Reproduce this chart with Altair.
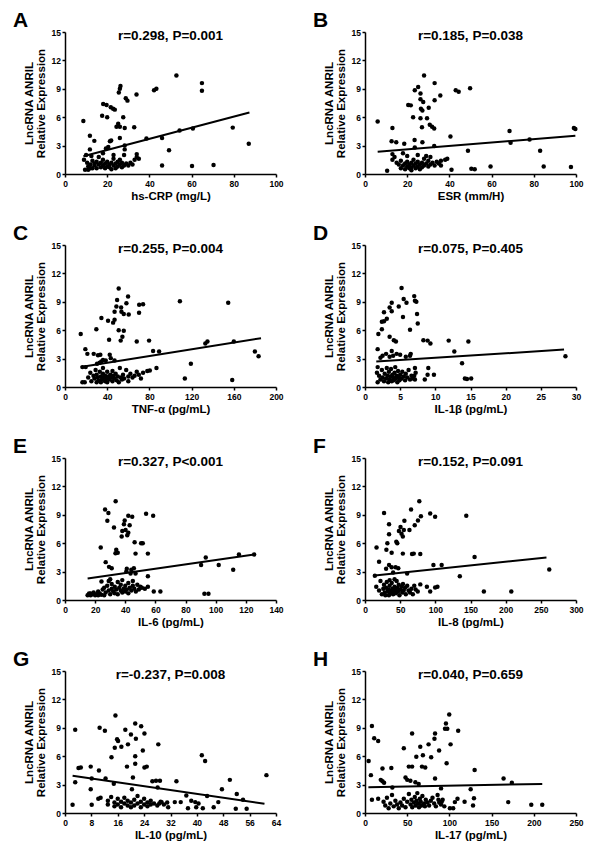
import altair as alt
import pandas as pd

FONT = "Liberation Sans"
Y_TITLE = ["LncRNA ANRIL", "Relative Expression"]
Y_TICKS = [0, 3, 6, 9, 12, 15]

letters = ["A", "B", "C", "D", "E", "F", "G", "H"]
stats = ["r=0.298, P=0.001", "r=0.185, P=0.038", "r=0.255, P=0.004", "r=0.075, P=0.405",
         "r=0.327, P<0.001", "r=0.152, P=0.091", "r=-0.237, P=0.008", "r=0.040, P=0.659"]
x_titles = ["hs-CRP (mg/L)", "ESR (mm/H)", "TNF-α (pg/mL)", "IL-1β (pg/mL)",
            "IL-6 (pg/mL)", "IL-8 (pg/mL)", "IL-10 (pg/mL)", "IL-17 (pg/mL)"]
x_ticks = [[0, 20, 40, 60, 80, 100], [0, 20, 40, 60, 80, 100], [0, 40, 80, 120, 160, 200],
           [0, 5, 10, 15, 20, 25, 30], [0, 20, 40, 60, 80, 100, 120, 140],
           [0, 50, 100, 150, 200, 250, 300], [0, 8, 16, 24, 32, 40, 48, 56, 64],
           [0, 50, 100, 150, 200, 250]]
fit_x = [[8.7, 87.4], [6.0, 99.7], [15.0, 185.8], [1.6, 28.3], [15.0, 125.5], [14.0, 258.0], [2.3, 60.5], [4.0, 210.0]]
fit_y = [[1.88, 6.5], [2.35, 4.05], [2.12, 5.16], [2.7, 3.95], [2.27, 4.8], [2.6, 4.5], [3.94, 0.98], [2.72, 3.07]]

A_pts = [(52.8, 10.4), (64.9, 9.6), (64.9, 8.8), (43.3, 9.0), (42.2, 8.85), (26.3, 9.3), (26.0, 9.0), (25.5, 8.6),
         (33.9, 8.4), (28.8, 8.0), (29.6, 7.75), (18.1, 7.4), (19.7, 7.3), (21.7, 7.05), (22.8, 6.9), (23.6, 6.8),
         (17.6, 6.15), (20.0, 6.0), (27.6, 6.0), (8.7, 5.6), (25.2, 5.3), (24.4, 5.0), (26.0, 5.0), (28.3, 4.85),
         (32.8, 4.95), (11.8, 4.05), (13.9, 3.5), (21.3, 3.45), (21.9, 3.55), (26.0, 3.8), (38.6, 3.75), (46.0, 3.8),
         (54.3, 4.6), (60.6, 4.8), (79.5, 4.9), (87.1, 3.2), (49.3, 2.5), (46.0, 0.9), (60.2, 0.85), (70.4, 0.95),
         (11.8, 2.6), (19.4, 2.7), (20.5, 2.85), (28.3, 3.0), (28.3, 2.6), (9.0, 1.5), (10.0, 2.0), (9.5, 0.45),
         (11.0, 0.45), (12.0, 0.6), (12.0, 1.0), (12.5, 1.9), (13, 0.6), (13, 1.4), (14, 0.9), (14, 1.1), (15, 1.3),
         (15, 0.6), (16, 1.0), (16, 1.8), (17, 0.7), (17, 1.2), (18, 0.9), (18, 1.5), (19, 0.6), (19, 1.1), (20, 0.8),
         (20, 1.3), (21, 0.7), (21, 1.0), (22, 1.2), (22, 0.5), (23, 0.9), (23, 1.6), (24, 0.6), (24, 1.1), (25, 1.3),
         (25, 0.8), (26, 1.0), (26, 1.5), (27, 0.7), (27, 1.2), (28, 0.9), (28, 2.0), (29, 1.1), (30, 0.9), (31, 1.2),
         (32, 1.0), (33, 1.5), (34, 1.8), (35, 1.6), (34, 2.1), (18, 2.2), (23, 2.0), (10.5, 1.2), (11, 0.8)]

B_pts = [(28.0, 10.4), (33.0, 9.6), (25.2, 9.2), (23.6, 8.85), (26.3, 8.5), (35.7, 8.3), (43.0, 8.85), (44.4, 8.7),
         (49.8, 9.05), (26.3, 7.9), (27.6, 7.6), (33.0, 7.8), (20.5, 7.3), (21.7, 7.25), (26.5, 6.9), (27.2, 6.7),
         (30.2, 7.0), (22.8, 6.0), (26.3, 5.9), (29.4, 5.9), (6.0, 5.55), (30.7, 5.2), (31.8, 5.0), (32.8, 4.8),
         (27.0, 4.95), (13.0, 4.85), (40.5, 3.95), (68.5, 4.55), (69.0, 3.3), (78.0, 3.65), (99.0, 4.85), (99.7, 4.75),
         (23.5, 3.6), (27.2, 3.35), (12.6, 3.45), (14.8, 3.35), (18.6, 3.2), (32.8, 2.95), (23.6, 2.8), (48.8, 2.45),
         (83.0, 2.45), (41.0, 0.45), (50.4, 0.55), (52.0, 0.5), (59.5, 0.8), (84.7, 0.8), (97.6, 0.75), (10.5, 0.35),
         (13, 2.1), (13, 1.5), (14, 1.8), (15, 1.2), (16, 1.0), (17, 0.6), (17, 1.4), (18, 0.9), (18, 2.2), (19, 1.1),
         (19, 0.5), (20, 0.8), (20, 1.3), (20, 1.9), (21, 0.6), (21, 1.0), (22, 1.2), (22, 0.7), (23, 0.9), (23, 1.5),
         (24, 0.6), (24, 1.1), (25, 1.3), (25, 0.8), (25, 2.0), (26, 1.0), (27, 0.7), (27, 1.2), (28, 0.9), (28, 1.6),
         (29, 1.1), (30, 0.8), (30, 1.4), (31, 1.0), (32, 1.2), (33, 0.9), (34, 1.3), (35, 1.1), (36, 1.4), (38, 1.5),
         (39, 1.6), (31, 1.8), (36, 0.9), (22, 0.4), (26, 0.5), (29, 1.9)]

C_pts = [(14.9, 5.6), (19.3, 4.0), (21.2, 3.5), (29.7, 6.1), (34.5, 7.3), (40.8, 7.0), (41.8, 5.0), (45.6, 6.8),
         (47.0, 7.95), (48.7, 8.5), (49.4, 9.2), (50.9, 10.4), (53.2, 8.4), (55.7, 7.7), (58.2, 8.85), (59.8, 9.55),
         (60.4, 7.65), (53.5, 7.95), (47.0, 7.1), (50.9, 6.0), (52.8, 4.9), (55.7, 5.95), (54.4, 5.3), (70.3, 8.7),
         (74.0, 8.75), (70.2, 7.85), (68.0, 4.8), (79.7, 4.9), (108.9, 9.05), (154.7, 8.9), (83.5, 3.8), (89.2, 3.75),
         (86.7, 2.0), (80.4, 1.75), (119.3, 2.45), (133.0, 4.6), (135.0, 4.8), (160.0, 4.8), (180.0, 3.75),
         (183.5, 3.25), (113.6, 0.9), (158.5, 0.75), (16.5, 0.5), (18.7, 0.5), (16.5, 2.1), (19.6, 2.1), (27.2, 3.5),
         (31.3, 3.35), (33.5, 3.4), (42.4, 3.4), (43.4, 3.05), (32.9, 2.55), (30.4, 2.45), (34.5, 2.7), (36.0, 2.85),
         (38.6, 2.8), (47.0, 2.8), (22, 1.0), (24, 1.5), (25, 0.6), (27, 1.2), (28, 0.9), (29, 1.8), (30, 0.5),
         (30, 1.3), (31, 1.0), (32, 0.7), (33, 1.6), (34, 1.1), (34, 0.5), (35, 0.8), (36, 1.4), (36, 2.0), (37, 1.0),
         (38, 0.6), (38, 1.2), (39, 0.9), (40, 1.6), (40, 0.5), (41, 1.1), (42, 0.8), (43, 1.3), (44, 1.0), (45, 1.7),
         (45, 0.6), (46, 1.2), (47, 0.9), (48, 1.4), (49, 0.7), (50, 1.1), (51, 0.5), (52, 2.0), (53, 1.0), (54, 0.8),
         (55, 1.3), (56, 0.9), (58, 1.8), (60, 1.1), (62, 1.4), (64, 1.0), (66, 1.2), (68, 1.6), (70, 1.3), (72, 0.9),
         (74, 1.5), (78, 1.7), (60, 0.6)]

D_pts = [(5.2, 10.45), (5.5, 9.3), (5.9, 8.9), (7.0, 9.6), (7.1, 9.1), (7.3, 9.0), (4.8, 8.5), (3.8, 8.9), (3.5, 8.4),
         (2.7, 7.9), (3.8, 8.0), (3.1, 7.2), (2.7, 6.95), (2.4, 6.9), (5.4, 7.4), (7.4, 7.7), (7.5, 6.7), (6.4, 6.05),
         (2.4, 6.1), (1.9, 5.6), (3.5, 5.3), (4.1, 4.95), (4.4, 4.8), (8.3, 4.95), (8.9, 4.9), (9.3, 4.6), (11.9, 4.9),
         (14.7, 4.8), (12.7, 3.75), (13.8, 2.5), (28.5, 3.25), (1.8, 4.0), (14.2, 0.9), (14.5, 0.85), (15.1, 0.9),
         (9.8, 1.3), (8.9, 1.3), (8.5, 0.8), (9.0, 2.0), (7.1, 2.0), (7.0, 1.2), (6.5, 3.5), (6.4, 3.3), (5.0, 3.4),
         (4.5, 3.5), (3.8, 3.8), (3.5, 3.2), (3.0, 3.5), (2.5, 3.3), (2.2, 3.1), (1.8, 2.1), (1.7, 1.5),
         (1.8, 0.5), (2.0, 1.2), (2.2, 0.8), (2.4, 1.8), (2.5, 1.0), (2.7, 0.6), (2.8, 1.4), (3.0, 0.9), (3.1, 2.0),
         (3.2, 1.2), (3.3, 0.5), (3.4, 1.6), (3.5, 0.8), (3.6, 1.1), (3.7, 1.9), (3.8, 0.6), (3.9, 1.3), (4.0, 1.0),
         (4.1, 0.7), (4.2, 1.5), (4.3, 2.1), (4.4, 0.9), (4.5, 1.2), (4.6, 0.5), (4.7, 1.7), (4.8, 1.0), (4.9, 0.7),
         (5.0, 1.3), (5.2, 0.9), (5.3, 1.6), (5.5, 1.1), (5.7, 0.7), (5.8, 1.4), (6.0, 1.0), (6.2, 1.8), (6.4, 0.8),
         (6.6, 1.2), (6.8, 0.9), (7.1, 0.8), (7.2, 1.5), (4.0, 3.3), (5.8, 3.2)]

E_pts = [(33.6, 10.43), (26.6, 9.55), (28.8, 9.2), (28.1, 8.36), (42.0, 8.9), (44.6, 8.8), (53.8, 9.1), (58.5, 8.9),
         (39.6, 8.4), (39.1, 8.0), (42.9, 7.9), (32.5, 7.65), (38.0, 7.3), (40.2, 7.4), (42.0, 7.1), (37.6, 6.7),
         (41.3, 6.85), (46.2, 6.1), (50.5, 6.0), (51.6, 6.0), (34.0, 5.3), (35.0, 5.0), (33.5, 4.95), (23.7, 5.55),
         (46.8, 4.9), (55.0, 4.9), (27.0, 4.0), (29.2, 3.5), (31.0, 3.35), (45.7, 3.35), (40.7, 3.0), (43.5, 2.8),
         (46.8, 2.8), (55.0, 2.5), (24.2, 1.95), (93.4, 4.5), (90.3, 3.7), (102.0, 3.7), (111.6, 3.2), (115.4, 4.8),
         (125.5, 4.8), (92.5, 0.65), (95.2, 0.65), (58.9, 0.9), (63.3, 0.9), (15, 0.5), (16, 0.7), (17, 0.5),
         (18, 0.6), (19, 0.8), (20, 0.5), (21, 0.6), (22, 0.5), (23, 0.7), (24, 0.55), (17, 0.7), (22, 0.9), (25, 1.1),
         (26, 1.3), (27, 0.8), (28, 1.5), (29, 1.0), (29, 2.0), (30, 0.6), (31, 1.2), (31, 1.7), (32, 0.9), (33, 1.4),
         (33, 0.7), (34, 1.1), (35, 1.9), (35, 0.6), (36, 1.3), (37, 1.0), (37, 1.6), (38, 0.8), (39, 1.2), (40, 1.5),
         (40, 0.9), (41, 1.1), (42, 1.8), (42, 0.7), (43, 1.3), (44, 1.0), (45, 1.5), (45, 2.0), (46, 1.2), (47, 0.9),
         (48, 1.6), (49, 1.1), (50, 1.4), (51, 1.3), (53, 1.2), (55, 1.4), (30, 2.2), (38, 2.1), (26, 0.5),
         (41, 3.3), (44, 3.2)]

F_pts = [(77.2, 10.43), (65.5, 9.55), (27.1, 9.2), (92.7, 9.13), (99.7, 8.8), (144.0, 8.9), (79.5, 8.85), (75.3, 8.4),
         (56.0, 8.36), (34.2, 8.0), (70.7, 7.9), (50.5, 7.7), (55.2, 7.4), (63.2, 7.4), (48.2, 7.3), (51.9, 7.0),
         (34.2, 6.95), (53.8, 6.7), (44.5, 6.15), (45.9, 6.0), (31.8, 6.0), (16.4, 5.55), (30.4, 5.3), (37.9, 5.0),
         (53.8, 4.9), (66.9, 4.85), (69.3, 4.9), (78.6, 4.85), (155.8, 4.55), (20.0, 4.05), (34.2, 3.7), (37.9, 3.45),
         (43.5, 3.45), (47.3, 3.35), (97.3, 3.7), (109.0, 3.7), (262.0, 3.23), (59.9, 2.8), (134.8, 2.5), (14.0, 2.55),
         (169.0, 0.9), (208.0, 0.9), (88.0, 1.4), (92.7, 0.9), (99.7, 1.33), (103.0, 1.4), (78.6, 1.65),
         (16, 1.4), (20, 1.0), (22, 2.0), (24, 0.6), (26, 1.2), (27, 1.6), (28, 0.8), (29, 0.5), (30, 1.3), (31, 1.9),
         (32, 0.9), (33, 1.1), (34, 0.5), (35, 1.5), (36, 0.7), (37, 1.0), (38, 1.8), (39, 1.2), (40, 0.6), (41, 0.9),
         (42, 1.4), (43, 1.1), (44, 0.7), (45, 2.0), (46, 1.3), (47, 0.9), (48, 1.6), (49, 0.5), (50, 1.1), (52, 1.4),
         (53, 0.8), (54, 1.7), (55, 1.0), (57, 1.3), (58, 0.6), (60, 1.5), (62, 1.0), (64, 0.8), (66, 1.2), (68, 0.6),
         (70, 1.5), (72, 1.1), (75, 0.9), (42, 2.2), (35, 2.1), (30, 3.3), (40, 2.9)]

G_pts = [(15.3, 10.3), (21.3, 9.45), (23.1, 9.17), (10.5, 9.0), (3.1, 8.8), (12.1, 8.7), (18.3, 8.8), (20.0, 8.3),
         (24.1, 8.4), (15.8, 7.8), (16.1, 7.6), (21.5, 7.85), (19.1, 7.25), (17.1, 7.0), (15.1, 6.9), (28.3, 7.25),
         (23.6, 6.6), (21.3, 6.0), (14.1, 5.9), (41.5, 6.1), (42.5, 5.5), (21.3, 5.2), (18.8, 4.9), (24.1, 4.8),
         (24.8, 4.9), (4.1, 4.75), (4.8, 4.8), (7.8, 4.9), (10.3, 4.5), (12.3, 3.65), (8.1, 3.65), (3.1, 3.25),
         (14.8, 3.1), (20.6, 3.75), (33.8, 3.35), (26.5, 3.35), (27.6, 3.4), (28.8, 3.4), (50.0, 3.5), (61.1, 4.0),
         (7.8, 2.5), (20.3, 2.5), (28.1, 2.7), (47.6, 2.5), (52.1, 2.0), (54.0, 1.4), (2.3, 0.87), (8.1, 0.87),
         (10.1, 1.5), (10.8, 1.6), (36.8, 1.85), (37.3, 0.5), (38.3, 1.3), (39.5, 1.15), (39.8, 0.6), (40.5, 1.0),
         (41.8, 0.5), (43.1, 1.8), (45.1, 0.6), (46.5, 1.15), (51.8, 0.45), (55.1, 0.45), (31.3, 0.6), (33.3, 1.15),
         (35.1, 1.15), (29.3, 1.15), (28.6, 1.0), (13, 0.9), (13, 1.3), (14, 1.7), (15, 1.1), (15, 0.7), (16, 1.5),
         (16, 0.9), (17, 1.2), (17, 0.6), (18, 1.0), (18, 1.6), (19, 0.8), (19, 1.3), (20, 0.6), (20, 1.1), (21, 1.4),
         (21, 0.8), (22, 1.0), (22, 1.8), (23, 0.6), (23, 1.2), (24, 0.9), (24, 1.5), (25, 0.7), (25, 1.1), (26, 0.9),
         (26, 1.3), (27, 1.0), (28, 0.8), (29, 1.2), (30, 0.9), (31, 1.1)]

H_pts = [(99.8, 10.4), (95.9, 9.45), (94.8, 8.9), (97.5, 8.9), (110.4, 8.7), (8.2, 9.2), (10.9, 7.9), (15.6, 7.6),
         (55.8, 8.4), (83.0, 8.4), (82.3, 7.85), (75.3, 7.25), (101.4, 7.25), (65.5, 7.0), (46.0, 6.85), (68.6, 6.1),
         (60.8, 5.95), (78.4, 5.9), (87.8, 6.6), (96.7, 5.25), (4.3, 5.5), (51.9, 4.9), (55.8, 4.9), (67.5, 4.9),
         (71.4, 4.8), (129.9, 4.55), (164.2, 3.65), (174.0, 3.2), (7.0, 4.0), (20.7, 4.7), (31.2, 4.75), (83.0, 3.65),
         (48.0, 3.75), (50.0, 3.5), (53.8, 3.4), (59.7, 3.25), (63.6, 3.07), (18.7, 3.5), (20.7, 3.35), (22.6, 3.2),
         (32.4, 2.7), (90.1, 2.6), (125.2, 2.5), (129.1, 1.55), (128.0, 0.8), (118.0, 1.2), (169.7, 1.15),
         (197.0, 0.87), (210.0, 0.87), (100.6, 0.5), (104.5, 0.5), (106.5, 1.15), (109.6, 1.5), (90.9, 1.2),
         (87.0, 1.4), (8.2, 1.4), (15.6, 1.5), (22, 1.2), (24, 0.8), (26, 1.6), (28, 0.5), (30, 1.0), (32, 1.9),
         (34, 0.7), (36, 1.3), (38, 0.9), (40, 0.5), (42, 1.1), (44, 0.8), (46, 1.5), (48, 0.6), (50, 1.2), (52, 2.0),
         (54, 0.9), (55, 1.4), (56, 0.6), (58, 1.1), (59, 1.7), (60, 0.8), (61, 1.3), (62, 2.1), (63, 1.0), (64, 0.6),
         (65, 1.5), (66, 1.2), (67, 0.8), (68, 1.8), (70, 1.0), (71, 0.7), (72, 1.4), (74, 1.1), (76, 0.8), (78, 1.3),
         (80, 1.6), (82, 1.0), (84, 0.7), (86, 1.9), (88, 1.1), (90, 0.9), (92, 1.4), (94, 0.7)]

all_pts = [A_pts, B_pts, C_pts, D_pts, E_pts, F_pts, G_pts, H_pts]

W, H = 211, 142


def panel(i):
    pts = pd.DataFrame(all_pts[i], columns=["x", "y"])
    fit = pd.DataFrame({"x": fit_x[i], "y": fit_y[i]})
    xs = alt.Scale(domain=[0, x_ticks[i][-1]], nice=False, zero=True)
    ys = alt.Scale(domain=[0, 15], nice=False)
    xax = alt.Axis(values=x_ticks[i], title=x_titles[i], titleY=25, titleBaseline="alphabetic",
                   labelPadding=2, format="d", labelOverlap=False, labelFlush=False)
    yax = alt.Axis(values=Y_TICKS, title=Y_TITLE, titleAngle=270, titleX=-32.5, titleY=H / 2,
                   titleAlign="center", titleBaseline="alphabetic", titleLineHeight=11.5,
                   labelPadding=1.5, format="d", labelOverlap=False, labelFlush=False,
                   labelBaseline="middle", labelSeparation=0)
    dots = alt.Chart(pts).mark_circle(size=20, color="black", opacity=1).encode(
        x=alt.X("x:Q", scale=xs, axis=xax),
        y=alt.Y("y:Q", scale=ys, axis=yax),
    )
    line = alt.Chart(fit).mark_line(color="black", strokeWidth=2).encode(
        x=alt.X("x:Q", scale=xs, axis=xax), y=alt.Y("y:Q", scale=ys, axis=yax))
    stat = alt.Chart(pd.DataFrame({"t": [stats[i]]})).mark_text(
        font=FONT, fontSize=13.5, fontWeight="bold", color="black", align="center",
        baseline="alphabetic").encode(text="t:N", x=alt.value(W / 2), y=alt.value(8))
    letter = alt.Chart(pd.DataFrame({"t": [letters[i]]})).mark_text(
        font=FONT, fontSize=21, fontWeight="bold", color="black", align="left",
        baseline="alphabetic").encode(text="t:N", x=alt.value(-52), y=alt.value(-5))
    return alt.layer(dots, line, stat, letter).properties(width=W, height=H)


chart = alt.concat(*[panel(i) for i in range(8)], columns=2,
                   spacing={"row": 71, "column": 89}, bounds="flush").properties(
    padding={"left": 5, "top": 2, "right": 5, "bottom": 5}
).configure_view(stroke=None).configure_axis(
    domainColor="black", domainWidth=1.5, tickColor="black", tickWidth=1.5, tickSize=3,
    labelFont=FONT, labelFontSize=8.5, labelFontWeight="bold", labelColor="black",
    titleFont=FONT, titleFontSize=11.5, titleFontWeight="bold", titleColor="black",
    grid=False, labelOverlap=False
)

chart.save("out.html", embed_options={"renderer": "svg", "actions": False})
